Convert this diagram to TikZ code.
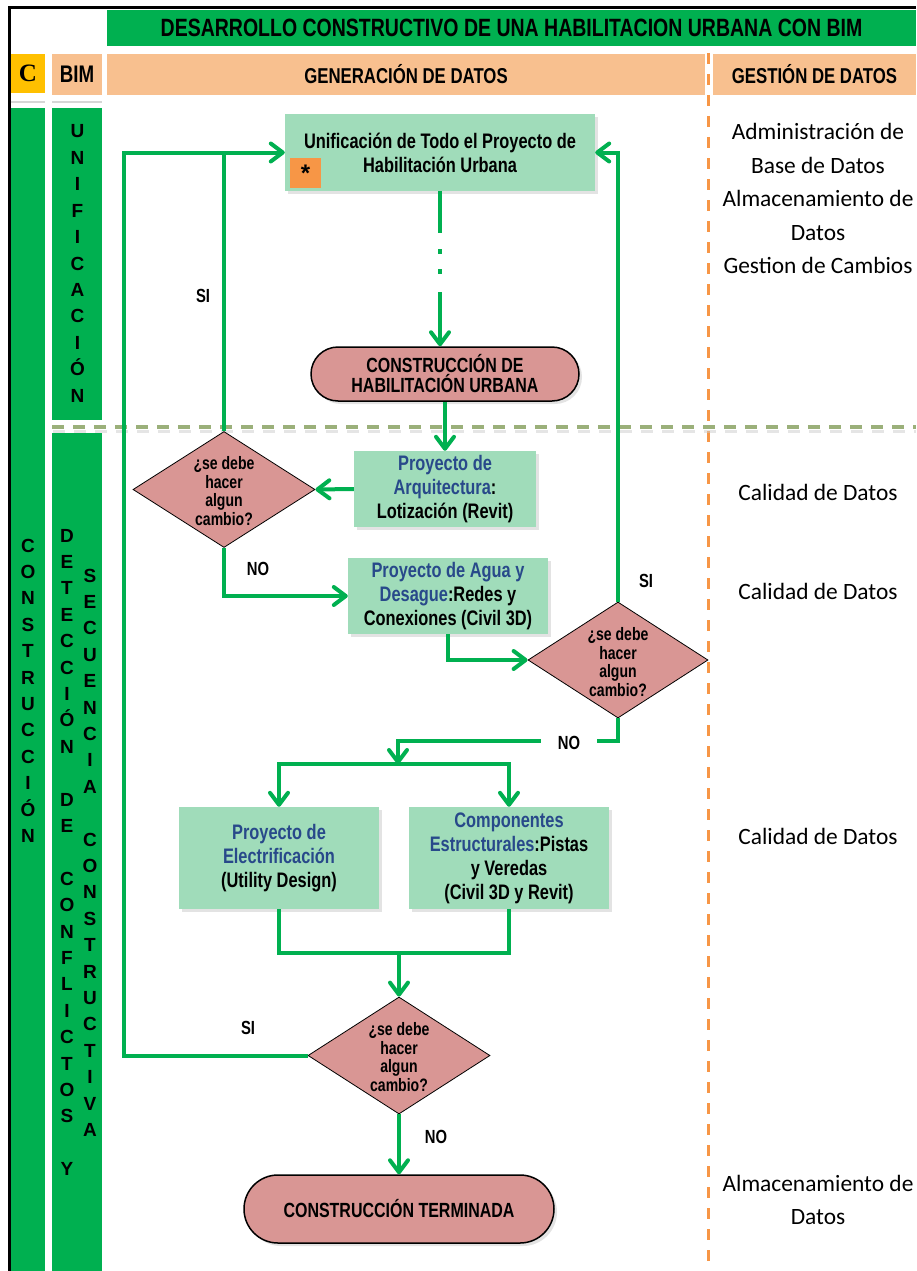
\documentclass[tikz,border=0pt]{standalone}
\usepackage{fontspec}
\setmainfont{Liberation Sans}
\newfontfamily\nar{Liberation Sans}[FakeStretch=0.78]
\newfontfamily\calib{Carlito}
\newfontfamily\tnr{Liberation Serif}
\usetikzlibrary{shapes.geometric,arrows.meta,shadows}

\definecolor{gbar}{HTML}{00B050}
\definecolor{peach}{HTML}{F8C08F}
\definecolor{gold}{HTML}{FFC000}
\definecolor{boxg}{HTML}{A0DCBA}
\definecolor{pink}{HTML}{D99694}
\definecolor{tblue}{HTML}{28498A}
\definecolor{orng}{HTML}{F79646}
\definecolor{olive}{HTML}{9BB07A}
\definecolor{lgray}{HTML}{D6D6D6}

\begin{document}
\begin{tikzpicture}[x=1pt,y=-1pt,
  cell/.style={rectangle, draw=none, inner sep=0pt},
  hdr/.style={cell, fill=peach, font=\nar\bfseries\fontsize{21.5}{23}\selectfont},
  col/.style={cell, fill=gbar},
  vl/.style={inner sep=0pt, text height=14pt, text depth=0pt, font=\bfseries\fontsize{19}{21}\selectfont},
  box/.style={rectangle, fill=boxg, draw=none, align=center, inner sep=2pt,
    font=\nar\bfseries\fontsize{21}{24}\selectfont,
    drop shadow={opacity=0.22, shadow xshift=3pt, shadow yshift=-3pt}},
  term/.style={rectangle, fill=pink, draw=black, line width=1.5pt, align=center,
    font=\nar\bfseries\fontsize{20.5}{20}\selectfont,
    drop shadow={opacity=0.22, shadow xshift=3pt, shadow yshift=-3pt}},
  dia/.style={diamond, aspect=1.57, fill=pink, draw=black, line width=0.8pt, inner sep=0pt},
  diatxt/.style={align=center, inner sep=0pt, font=\nar\bfseries\fontsize{18}{18.5}\selectfont},
  lbl/.style={inner sep=1pt, font=\nar\bfseries\fontsize{19}{20}\selectfont},
  conn/.style={draw=gbar, line width=4pt},
  arr/.style={conn, -{Straight Barb[length=12pt,width=18pt,round]}},
  side/.style={align=center, font=\calib\fontsize{23.4}{33.5}\selectfont}]

\useasboundingbox (0,0) rectangle (916,1271);

% outer frame (left and top edges)
\draw[line width=3pt] (9.5,1271) -- (9.5,7.5) -- (916,7.5);

% header row
\node[cell, fill=gbar, minimum width=809pt, minimum height=36pt,
      font=\nar\bfseries\fontsize{25}{26}\selectfont] (title) at (511.5,28)
      {DESARROLLO CONSTRUCTIVO DE UNA HABILITACION URBANA CON BIM};
\node[cell, fill=gold, minimum width=34pt, minimum height=39pt,
      font=\tnr\bfseries\fontsize{25}{28}\selectfont] (chead) at (28,73.5) {C};
\node[hdr, minimum width=50pt, minimum height=41pt,
      font=\nar\bfseries\fontsize{24}{26}\selectfont] (bimhead) at (77,74.5) {BIM};
\node[hdr, minimum width=598pt, minimum height=41pt] (gen) at (406,74.5) {GENERACIÓN DE DATOS};
\node[hdr, minimum width=203pt, minimum height=41pt] (gest) at (814.5,74.5) {GESTIÓN DE DATOS};

% thin rules under the left headers
\draw[lgray, line width=2pt] (11,102.5) -- (45,102.5);
\draw[lgray, line width=2pt] (52,102.5) -- (102,102.5);

% left columns
\node[col, minimum width=34pt, minimum height=1163pt] (colC) at (28,689.5) {};
\node[col, minimum width=50pt, minimum height=312pt] (colU) at (77,264) {};
\node[col, minimum width=50pt, minimum height=838pt] (colD) at (77,852) {};

\foreach \l [count=\i from 0] in {C,O,N,S,T,R,U,C,C,I,Ó,N}
  \node[vl] (cons\i) at (28,545+26.4*\i) {\l};
\foreach \l [count=\i from 0] in {U,N,I,F,I,C,A,C,I,Ó,N}
  \node[vl] (unif\i) at (77.5,131+26.4*\i) {\l};
\foreach \l [count=\i from 0] in {D,E,T,E,C,C,I,Ó,N,{},D,E,{},C,O,N,F,L,I,C,T,O,S,{},Y}
  \node[vl] (det\i) at (67,535+26.4*\i) {\l};
\foreach \l [count=\i from 0] in {S,E,C,U,E,N,C,I,A,{},C,O,N,S,T,R,U,C,T,I,V,A}
  \node[vl] (sec\i) at (90,575+26.4*\i) {\l};

% dashed separators
\draw[orng, line width=3pt, dash pattern=on 11pt off 10pt] (708,53) -- (708,1271);
\draw[black!20, line width=3pt, dash pattern=on 12pt off 9pt, opacity=0.5] (53,431) -- (916,431);
\draw[olive, line width=4pt, dash pattern=on 12pt off 9pt] (52,427) -- (916,427);

% data management column
\node[side] (g1) at (818,198.5) {Administración de\\Base de Datos\\Almacenamiento de\\Datos\\Gestion de Cambios};
\node[side] (g2) at (818,492) {Calidad de Datos};
\node[side] (g3) at (818,591) {Calidad de Datos};
\node[side] (g4) at (818,836) {Calidad de Datos};
\node[side] (g5) at (818,1200) {Almacenamiento de\\Datos};

% flow nodes
\node[box, minimum width=310pt, minimum height=77pt] (unif) at (440,152.5)
  {Unificación de Todo el Proyecto de\\Habilitación Urbana};
\node[cell, fill=orng, minimum width=31pt, minimum height=30pt,
      font=\bfseries\fontsize{24}{24}\selectfont] (star) at (305.5,173) {*};

\node[term, rounded corners=27pt, minimum width=268pt, minimum height=54pt] (cdh) at (445,374)
  {CONSTRUCCIÓN DE\\HABILITACIÓN URBANA};

\node[box, minimum width=182pt, minimum height=76pt] (arq) at (445,489)
  {\textcolor{tblue}{Proyecto de}\\\textcolor{tblue}{Arquitectura}:\\Lotización (Revit)};
\node[dia, minimum width=182pt, minimum height=116pt] (d1) at (224,489.5) {};
\node[diatxt] (d1t) at (224,491) {¿se debe\\hacer\\algun\\cambio?};

\node[box, minimum width=200pt, minimum height=76pt] (agua) at (448,596)
  {\textcolor{tblue}{Proyecto de Agua y}\\\textcolor{tblue}{Desague}:Redes y\\Conexiones (Civil 3D)};
\node[dia, minimum width=180pt, minimum height=116pt] (d2) at (618,660) {};
\node[diatxt] (d2t) at (618,662) {¿se debe\\hacer\\algun\\cambio?};

\node[box, minimum width=200pt, minimum height=102pt] (elec) at (279,858)
  {\textcolor{tblue}{Proyecto de}\\\textcolor{tblue}{Electrificación}\\(Utility Design)};
\node[box, minimum width=200pt, minimum height=102pt] (comp) at (509,858)
  {\textcolor{tblue}{Componentes}\\\textcolor{tblue}{Estructurales}:Pistas\\y Veredas\\(Civil 3D y Revit)};

\node[dia, minimum width=182pt, minimum height=117pt] (d3) at (399,1055.5) {};
\node[diatxt] (d3t) at (399,1057) {¿se debe\\hacer\\algun\\cambio?};

\node[term, rounded corners=34pt, minimum width=310pt, minimum height=68pt] (fin) at (399,1209)
  {CONSTRUCCIÓN TERMINADA};

% connectors
\draw[arr, dash pattern=on 42pt off 16pt on 5pt off 15pt on 5pt off 18pt on 300pt]
  (unif.south) -- (unif.south |- cdh.north);
\draw[arr] (cdh.south) -- (arq.north);
\draw[arr] (arq.west) -- (d1.east);
\draw[conn] (d1.north) -- (d1.north |- unif.west);
\draw[arr] (d3.west) -- ++(-184,0) |- (unif.west);
\draw[arr] (d1.south) |- (agua.west);
\draw[arr] (agua.south) |- (d2.west);
\draw[arr] (d2.north) |- (unif.east);
\coordinate (nobend) at (398,741);
\coordinate (split) at (398,764);
\draw[arr] (d2.south) |- (nobend) -- (split);
\draw[arr] (split) -| (elec.north);
\draw[arr] (split) -| (comp.north);
\coordinate (merge) at (399,953);
\draw[conn] (elec.south) |- (merge);
\draw[conn] (comp.south) |- (merge);
\draw[arr] (merge) -- (d3.north);
\draw[arr] (d3.south) -- (fin.north);

% branch labels
\node[lbl] (si1) at (203,296) {SI};
\node[lbl] (si2) at (646,581) {SI};
\node[lbl] (si3) at (248,1028) {SI};
\node[lbl] (no1) at (258,569) {NO};
\node[lbl, fill=white, inner xsep=17pt] (no2) at (569,743) {NO};
\node[lbl] (no3) at (436,1137) {NO};

\end{tikzpicture}
\end{document}
